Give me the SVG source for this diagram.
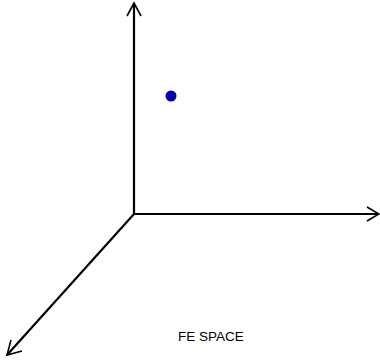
<svg xmlns="http://www.w3.org/2000/svg" width="380" height="361" viewBox="0 0 380 361">
<style>
.ax{stroke:#000;stroke-width:2.2;fill:none;stroke-linecap:butt}
.hd{stroke:#000;stroke-width:1.6;fill:none}
.lbl{font-family:"Liberation Sans",Arial,sans-serif;font-size:13.5px;fill:#000}
</style>
<rect width="380" height="361" fill="#fff"/>
<g id="connectors">
<line class="ax" x1="134" y1="214" x2="134" y2="3"/>
<polyline class="hd" points="127,16 134,3 141,16"/>
<line class="ax" x1="134" y1="214" x2="378" y2="214"/>
<polyline class="hd" points="367,207 379,214 367,221"/>
<line class="ax" x1="134" y1="214" x2="7" y2="355"/>
<polyline class="hd" points="11,340 7,355 22,351"/>
</g>
<g id="point"><circle cx="171" cy="96" r="5.5" fill="#0000AA"/></g>
<g id="label"><text class="lbl" x="178" y="341">FE SPACE</text></g>
</svg>
